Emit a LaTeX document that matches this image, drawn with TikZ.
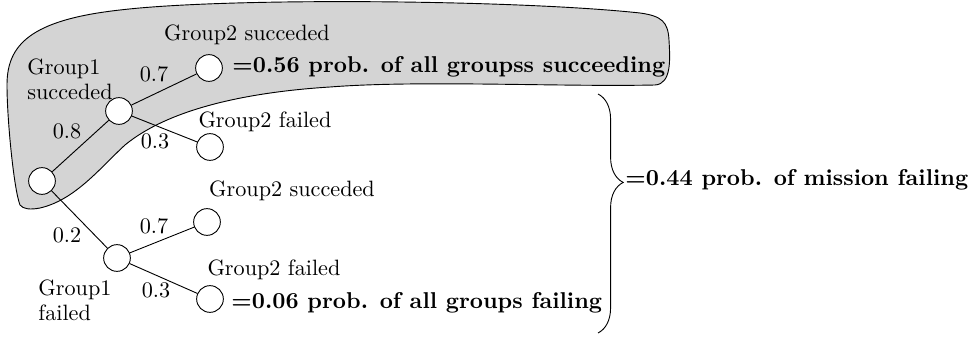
\documentclass[tikz,border=0pt]{standalone}
\usetikzlibrary{decorations.pathreplacing}
\newcommand{\labelfont}{\fontsize{9.7}{10.9}\selectfont}
\begin{document}
\begin{tikzpicture}[x=0.01535cm,y=-0.01535cm,
  state/.style={circle,draw,fill=white,minimum size=4.1mm,inner sep=0pt},
  lbl/.style={font=\labelfont,inner sep=0pt,align=left},
  prob/.style={font=\labelfont,inner sep=0pt},
  result/.style={font=\bfseries,inner sep=0pt,anchor=base west},
  blob/.style={draw,fill=black!17},
  branch/.style={draw},
  bracestyle/.style={draw,decorate,decoration={brace,amplitude=11pt,aspect=0.37}},
]
\useasboundingbox (0,0) rectangle (976,338);

% shaded region around the all-success branch
\path[blob] (20,205)
  .. controls (14,190) and (7,120) .. (7,85)
  .. controls (7,45) and (30,20) .. (120,10)
  .. controls (230,-3) and (520,0) .. (640,13)
  .. controls (662,16) and (668,22) .. (669,40)
  .. controls (670,58) and (672,84) .. (655,85)
  .. controls (560,87) and (420,80) .. (330,87)
  .. controls (250,92) and (170,108) .. (125,145)
  .. controls (100,168) and (75,200) .. (40,208)
  .. controls (30,210) and (23,209) .. cycle;

% tree nodes
\node[state] (root) at (42,181) {};
\node[state] (g1s) at (119,111) {};
\node[state] (g1f) at (117,258) {};
\node[state] (ss) at (209,68) {};
\node[state] (sf) at (210,147) {};
\node[state] (fs) at (207,222) {};
\node[state] (ff) at (210,299) {};

% branches
\draw[branch] (root) -- (g1s);
\draw[branch] (root) -- (g1f);
\draw[branch] (g1s) -- (ss);
\draw[branch] (g1s) -- (sf);
\draw[branch] (g1f) -- (fs);
\draw[branch] (g1f) -- (ff);

% branch probabilities
\node[prob] (p08) at (67,131) {0.8};
\node[prob] (p02) at (67,235) {0.2};
\node[prob] (p07a) at (154,74) {0.7};
\node[prob] (p03a) at (155,141) {0.3};
\node[prob] (p07b) at (154,226) {0.7};
\node[prob] (p03b) at (156,290) {0.3};

% outcome labels
\node[lbl] (l1s) at (70,79) {Group1\\succeded};
\node[lbl] (l1f) at (75,300) {Group1\\failed};
\node[lbl] (lss) at (247,35) {Group2 succeded};
\node[lbl] (lsf) at (265,122) {Group2 failed};
\node[lbl] (lfs) at (292,191) {Group2 succeded};
\node[lbl] (lff) at (274,270) {Group2 failed};

% results
\node[result] (rs) at (232,73) {=0.56 prob. of all groupss succeeding};
\node[result] (rf) at (231,308) {=0.06 prob. of all groups failing};

% brace over the failing outcomes
\coordinate (bt) at (598,94);
\coordinate (bb) at (598,333);
\draw[bracestyle] (bt) -- (bb);
\node[result] (rm) at (625,186) {=0.44 prob. of mission failing};
\end{tikzpicture}
\end{document}
